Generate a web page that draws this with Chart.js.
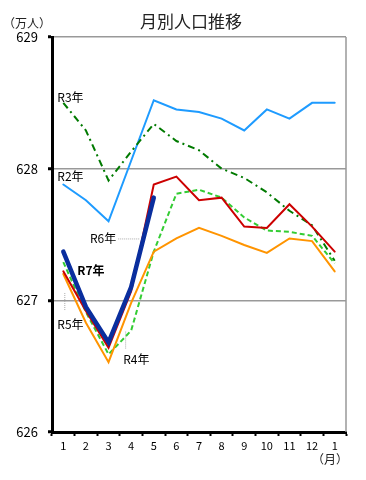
<!DOCTYPE html>
<html>
<head>
<meta charset="utf-8">
<script src="https://cdn.jsdelivr.net/npm/chart.js@4"></script>
<style>
html,body{margin:0;padding:0;background:#fff;}
#wrap{width:366px;height:480px;}
</style>
</head>
<body>
<div id="wrap"><canvas id="c" width="366" height="480"></canvas></div>
<script>
const months = ['1','2','3','4','5','6','7','8','9','10','11','12','1'];
const yTicks = [626, 627, 628, 629];
const r2 = [627.88, 627.76, 627.60, 628.06, 628.52, 628.45, 628.43, 628.38, 628.29, 628.45, 628.38, 628.50, 628.50];
const r3 = [628.50, 628.29, 627.91, 628.13, 628.34, 628.21, 628.14, 628.00, 627.93, 627.82, 627.68, 627.57, 627.30];
const r4 = [627.29, 626.91, 626.59, 626.77, 627.37, 627.81, 627.84, 627.78, 627.63, 627.53, 627.52, 627.49, 627.28];
const r5 = [627.20, 626.83, 626.53, 626.98, 627.37, 627.47, 627.55, 627.49, 627.42, 627.36, 627.47, 627.45, 627.22];
const r6 = [627.22, 626.92, 626.64, 627.07, 627.88, 627.94, 627.76, 627.78, 627.56, 627.55, 627.73, 627.56, 627.37];
const r7 = [627.37, 626.95, 626.68, 627.10, 627.78, null, null, null, null, null, null, null, null];

const titleText = '月別人口推移';
const unitText = '（万人）';
const monthUnit = '（月）';

const FONT = "'Noto Sans CJK JP', 'Noto Sans', sans-serif";

// annotation labels anchored to data coords (category index, value)
const notes = [
  {text:'R3年', idx:0, val:628.54, dx:-6, dy:0},
  {text:'R2年', idx:0, val:627.94, dx:-6, dy:0},
  {text:'R6年', idx:1, val:627.47, dx:4, dy:0, leader:'h', l1:2, l2:55},
  {text:'R7年', idx:0, val:627.23, dx:14, dy:0, bold:true},
  {text:'R5年', idx:0, val:626.82, dx:-6, dy:0, leader:'v', lx:7, l1:-31, l2:-13},
  {text:'R4年', idx:3, val:626.55, dx:-8, dy:0, leader:'v', lx:2, l1:-28, l2:-10}
];

const extras = {
  id:'extras',
  afterDraw(chart){
    const ctx = chart.ctx, ca = chart.chartArea;
    const xs = chart.scales.x, ys = chart.scales.y;
    ctx.save();
    // right border
    ctx.strokeStyle = '#999';
    ctx.lineWidth = 1.5;
    ctx.beginPath();
    ctx.moveTo(ca.right, ca.top);
    ctx.lineTo(ca.right, ca.bottom);
    ctx.stroke();
    // title
    ctx.fillStyle = '#222';
    ctx.textBaseline = 'middle';
    ctx.textAlign = 'center';
    ctx.font = '17px ' + FONT;
    ctx.fillText(titleText, chart.width/2 + 8, 22);
    ctx.font = '12px ' + FONT;
    ctx.textAlign = 'left';
    ctx.fillText(unitText, 3, 23);
    ctx.textAlign = 'right';
    ctx.fillText(monthUnit, ca.right + 2, 459);
    // notes
    ctx.fillStyle = '#000';
    notes.forEach(n=>{
      const x = xs.getPixelForValue(n.idx) + n.dx;
      const y = ys.getPixelForValue(n.val) + n.dy;
      ctx.font = (n.bold ? 'bold ' : '') + '12px ' + FONT;
      ctx.textAlign = 'left';
      ctx.textBaseline = 'middle';
      ctx.fillText(n.text, x, y);
      const w = ctx.measureText(n.text).width;
      if (n.leader){
        ctx.strokeStyle = '#aaa';
        ctx.lineWidth = 1;
        ctx.setLineDash([1,1]);
        ctx.beginPath();
        if (n.leader === 'h'){
          ctx.moveTo(x + w + n.l1, y + 0.5);
          ctx.lineTo(x + w + n.l1 + (n.l2 - n.l1) * 0.4, y + 0.5);
        } else {
          ctx.moveTo(x + n.lx + 0.5, y + n.l1);
          ctx.lineTo(x + n.lx + 0.5, y + n.l2);
        }
        ctx.stroke();
        ctx.setLineDash([]);
      }
    });
    ctx.restore();
  }
};

function ds(label, data, color, width, dash, order){
  return {label, data, borderColor:color, backgroundColor:color, borderWidth:width,
    borderDash:dash, pointRadius:0, pointHoverRadius:0, tension:0, fill:false,
    spanGaps:false, order, borderCapStyle: dash.length ? 'butt' : 'round', borderJoinStyle:'miter'};
}

new Chart(document.getElementById('c'), {
  type:'line',
  data:{
    labels: months,
    datasets:[
      ds('R7年', r7, '#0A2E9E', 4.5, [], 0),
      ds('R6年', r6, '#CC0000', 2, [], 1),
      ds('R5年', r5, '#FF9400', 2, [], 2),
      ds('R4年', r4, '#33CC33', 2, [5,3], 3),
      ds('R3年', r3, '#007A00', 2, [7,4,2,4], 4),
      ds('R2年', r2, '#1E9BFF', 2, [], 5)
    ]
  },
  plugins:[extras],
  options:{
    responsive:false,
    devicePixelRatio:1,
    animation:false,
    events:[],
    layout:{padding:{left:0, right:20, top:37, bottom:0}},
    plugins:{legend:{display:false}, title:{display:false}, tooltip:{enabled:false}},
    scales:{
      x:{
        type:'category',
        offset:true,
        grid:{offset:true, drawOnChartArea:false, tickLength:4, tickWidth:2, tickColor:'#000'},
        border:{display:true, color:'#000', width:3},
        ticks:{color:'#000', font:{family:FONT, size:11}, padding:3, maxRotation:0, autoSkip:false},
        afterFit(s){ s.height = 48; }
      },
      y:{
        min:626, max:629,
        afterBuildTicks(s){ s.ticks = yTicks.map(v=>({value:v})); },
        grid:{color:'#999', lineWidth:1.5, tickLength:4, tickWidth:3, tickColor:'#000'},
        border:{display:true, color:'#000', width:3},
        ticks:{color:'#000', font:{family:FONT, size:13}, padding:10},
        afterFit(s){ s.width = 52; }
      }
    }
  }
});
</script>
</body>
</html>
